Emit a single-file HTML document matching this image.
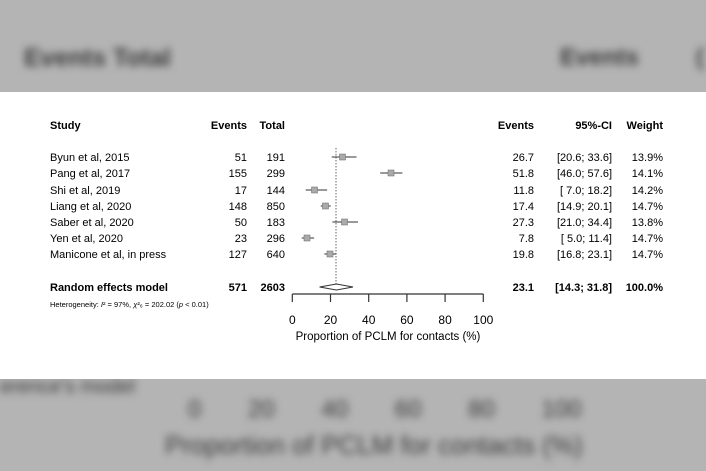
<!DOCTYPE html>
<html><head><style>
body{margin:0;width:706px;height:471px;overflow:hidden;background:#b4b4b4;font-family:"Liberation Sans",sans-serif;position:relative}
.bl{position:absolute;color:#3a3a3a;filter:blur(4px);white-space:nowrap}
#panel{position:absolute;left:0;top:92px;width:706px;height:287px;background:#fff}
</style></head><body>
<div class="bl" style="left:24px;top:44px;font-size:25px;font-weight:bold">Events Total</div>
<div class="bl" style="left:560px;top:44px;font-size:24px;font-weight:bold">Events</div>
<div class="bl" style="left:696px;top:44px;font-size:24px;font-weight:bold">(</div>
<div class="bl" style="left:0px;top:376px;font-size:20px">erence's model</div>
<div class="bl" style="left:188px;top:396px;font-size:24px;word-spacing:40px">0 20 40 60 80 100</div>
<div class="bl" style="left:165px;top:430px;font-size:26px">Proportion of PCLM for contacts (%)</div>
<div id="panel"></div>
<svg width="706" height="471" style="position:absolute;left:0;top:0" font-family="Liberation Sans, sans-serif" font-size="11">
<g font-weight="bold">
<text x="50" y="129">Study</text>
<text x="247" y="129" text-anchor="end">Events</text>
<text x="285" y="129" text-anchor="end">Total</text>
<text x="534" y="129" text-anchor="end">Events</text>
<text x="612" y="129" text-anchor="end">95%-CI</text>
<text x="663" y="129" text-anchor="end">Weight</text>
</g>
<g>
<text x="50" y="161">Byun et al, 2015</text>
<text x="50" y="177">Pang et al, 2017</text>
<text x="50" y="194">Shi et al, 2019</text>
<text x="50" y="210">Liang et al, 2020</text>
<text x="50" y="226">Saber et al, 2020</text>
<text x="50" y="242">Yen et al, 2020</text>
<text x="50" y="258">Manicone et al, in press</text>
</g>
<g text-anchor="end">
<text x="247" y="161">51</text><text x="285" y="161">191</text>
<text x="247" y="177">155</text><text x="285" y="177">299</text>
<text x="247" y="194">17</text><text x="285" y="194">144</text>
<text x="247" y="210">148</text><text x="285" y="210">850</text>
<text x="247" y="226">50</text><text x="285" y="226">183</text>
<text x="247" y="242">23</text><text x="285" y="242">296</text>
<text x="247" y="258">127</text><text x="285" y="258">640</text>
<text x="534" y="161">26.7</text><text x="612" y="161">[20.6; 33.6]</text><text x="663" y="161">13.9%</text>
<text x="534" y="177">51.8</text><text x="612" y="177">[46.0; 57.6]</text><text x="663" y="177">14.1%</text>
<text x="534" y="194">11.8</text><text x="612" y="194">[ 7.0; 18.2]</text><text x="663" y="194">14.2%</text>
<text x="534" y="210">17.4</text><text x="612" y="210">[14.9; 20.1]</text><text x="663" y="210">14.7%</text>
<text x="534" y="226">27.3</text><text x="612" y="226">[21.0; 34.4]</text><text x="663" y="226">13.8%</text>
<text x="534" y="242">7.8</text><text x="612" y="242">[ 5.0; 11.4]</text><text x="663" y="242">14.7%</text>
<text x="534" y="258">19.8</text><text x="612" y="258">[16.8; 23.1]</text><text x="663" y="258">14.7%</text>
</g>
<g font-weight="bold">
<text x="50" y="291">Random effects model</text>
<text x="247" y="291" text-anchor="end">571</text>
<text x="285" y="291" text-anchor="end">2603</text>
<text x="534" y="291" text-anchor="end">23.1</text>
<text x="612" y="291" text-anchor="end">[14.3; 31.8]</text>
<text x="663" y="291" text-anchor="end">100.0%</text>
</g>
<text x="50" y="307" font-size="7.5">Heterogeneity: <tspan font-style="italic">I</tspan>² = 97%, <tspan font-style="italic">χ</tspan>²₆ = 202.02 (<tspan font-style="italic">p</tspan> &lt; 0.01)</text>
<line x1="336" y1="148" x2="336" y2="284" stroke="#666" stroke-dasharray="1.5,1.5"/>
<g stroke="#333" stroke-width="1">
<line x1="331.7" y1="157" x2="356.5" y2="157"/>
<line x1="380.2" y1="173" x2="402.4" y2="173"/>
<line x1="305.7" y1="190" x2="327.1" y2="190"/>
<line x1="320.8" y1="206" x2="330.7" y2="206"/>
<line x1="332.4" y1="222" x2="358" y2="222"/>
<line x1="301.8" y1="238" x2="314.1" y2="238"/>
<line x1="324.4" y1="254" x2="336.4" y2="254"/>
</g>
<g fill="#aaa" stroke="#666" stroke-width="0.5">
<rect x="339.5" y="154" width="6" height="6"/>
<rect x="388" y="170" width="6" height="6"/>
<rect x="311.5" y="187" width="6" height="6"/>
<rect x="322.5" y="203" width="6" height="6"/>
<rect x="341.5" y="219" width="6" height="6"/>
<rect x="304" y="235" width="6" height="6"/>
<rect x="327" y="251" width="6" height="6"/>
</g>
<polygon points="319.6,287 336.4,284 353,287 336.4,290" fill="#fff" stroke="#333"/>
<g stroke="#333" stroke-width="1.2">
<line x1="292.3" y1="294" x2="483.3" y2="294"/>
<line x1="292.3" y1="294" x2="292.3" y2="302"/>
<line x1="330.5" y1="294" x2="330.5" y2="302"/>
<line x1="368.7" y1="294" x2="368.7" y2="302"/>
<line x1="406.9" y1="294" x2="406.9" y2="302"/>
<line x1="445.1" y1="294" x2="445.1" y2="302"/>
<line x1="483.3" y1="294" x2="483.3" y2="302"/>
</g>
<g text-anchor="middle" font-size="12">
<text x="292.3" y="324">0</text><text x="330.5" y="324">20</text><text x="368.7" y="324">40</text>
<text x="406.9" y="324">60</text><text x="445.1" y="324">80</text><text x="483.3" y="324">100</text>
<text x="388" y="340" font-size="11.5">Proportion of PCLM for contacts (%)</text>
</g>
</svg>
</body></html>
